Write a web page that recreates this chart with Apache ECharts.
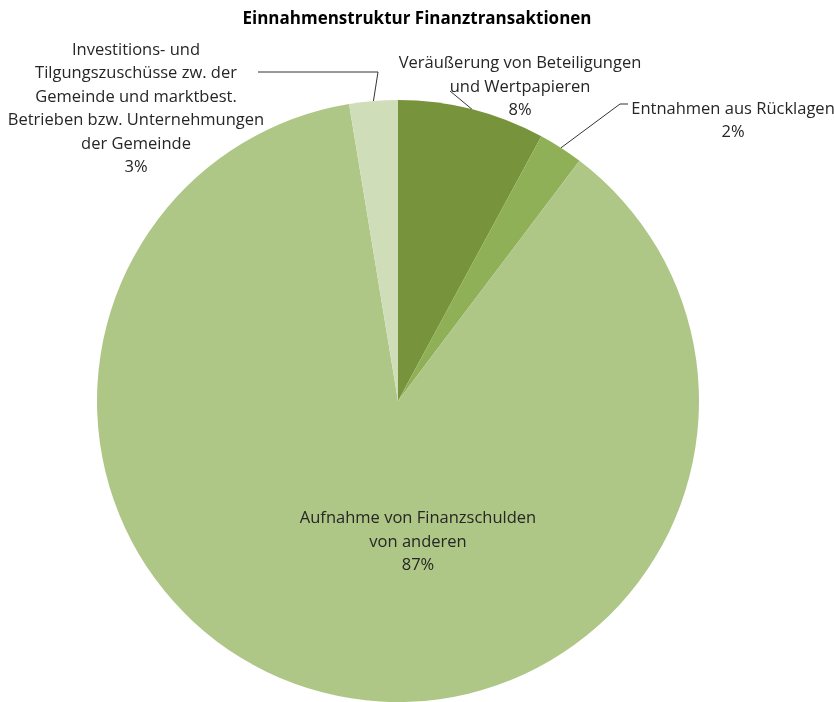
<!DOCTYPE html>
<html>
<head>
<meta charset="utf-8">
<style>html,body{margin:0;padding:0;background:#fff}#c{width:834px;height:702px}</style>
<script src="https://cdn.jsdelivr.net/npm/echarts@6/dist/echarts.min.js"></script>
</head>
<body>
<div id="c"></div>
<script>
const titleText = 'Einnahmenstruktur Finanztransaktionen';
const categories = [
  'Veräußerung von Beteiligungen\nund Wertpapieren',
  'Entnahmen aus Rücklagen',
  'Aufnahme von Finanzschulden\nvon anderen',
  'Investitions- und\nTilgungszuschüsse zw. der\nGemeinde und marktbest.\nBetrieben bzw. Unternehmungen\nder Gemeinde'
];
const values = [7.9, 2.4, 87.1, 2.6];
const colors = ['#77933c', '#8fb057', '#aec786', '#d0ddb9'];

// label placement (label centre) and leader-line bends
const labelPos = [
  {x: 520, y: 87, line: [[450, 91]]},
  {x: 733, y: 121, line: [[620, 104], [628, 104]]},
  {x: 418, y: 542, line: null},
  {x: 136, y: 109, line: [[378, 72], [258, 72]]}
];

const FONT = 'Open Sans';
const chart = echarts.init(document.getElementById('c'));
chart.setOption({
  animation: false,
  title: {
    text: titleText, left: 'center', top: 6,
    textStyle: {fontFamily: FONT, fontSize: 17, fontWeight: 'bold', color: '#000'}
  },
  series: [{
    type: 'pie',
    center: [398, 401],
    radius: 301,
    startAngle: 90,
    clockwise: true,
    data: categories.map((n, i) => ({
      name: n, value: values[i],
      itemStyle: {color: colors[i]},
      labelLine: {show: labelPos[i].line != null}
    })),
    itemStyle: {borderWidth: 0},
    label: {
      show: true, position: 'outside',
      formatter: p => p.name + '\n' + Math.round(p.percent) + '%',
      fontFamily: FONT, fontSize: 16.5, lineHeight: 23.5, color: '#262626', align: 'center'
    },
    labelLine: {show: true, length: 10, length2: 10, lineStyle: {color: '#333', width: 1}},
    labelLayout: function (params) {
      const lp = labelPos[params.dataIndex];
      const out = {x: lp.x, y: lp.y, align: 'center', verticalAlign: 'middle'};
      if (lp.line && params.labelLinePoints) {
        out.labelLinePoints = [params.labelLinePoints[0]].concat(lp.line);
      }
      return out;
    }
  }]
});
</script>
</body>
</html>
